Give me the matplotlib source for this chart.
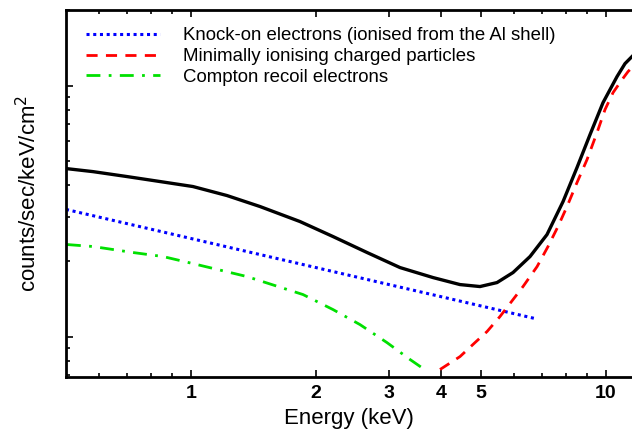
import numpy as np
import matplotlib
matplotlib.use('Agg')
import matplotlib.pyplot as plt
from matplotlib.ticker import LogLocator, NullFormatter, FixedLocator, FixedFormatter

plt.rcParams['font.family'] = ['Liberation Sans', 'DejaVu Sans']

# values (energy in keV, arbitrary counts units)
e_total = [0.5, 0.581, 0.701, 0.842, 1.011, 1.221, 1.467, 1.831, 2.199, 2.656,
           3.189, 3.830, 4.448, 4.970, 5.463, 5.970, 6.561, 7.208, 7.879, 8.514,
           9.152, 9.835, 10.63, 11.11, 11.55]
c_total = [0.467, 0.454, 0.434, 0.4146, 0.396, 0.3646, 0.3296, 0.2872, 0.2503, 0.2162,
           0.1883, 0.1718, 0.1611, 0.1582, 0.1641, 0.1799, 0.2084, 0.2549, 0.345, 0.4715,
           0.638, 0.855, 1.086, 1.223, 1.305]

e_knock = [0.5, 6.74]
c_knock = [0.321, 0.118]

e_min = [3.981, 4.448, 4.834, 5.168, 5.554, 5.970, 6.310, 6.822, 7.248, 7.660,
         8.054, 8.514, 9.001, 9.513, 9.945, 10.40, 10.93, 11.30, 11.55]
c_min = [0.0739, 0.0832, 0.0946, 0.1047, 0.1202, 0.1404, 0.1582, 0.190, 0.2284, 0.2743,
         0.3296, 0.4108, 0.5073, 0.6497, 0.8024, 0.9378, 1.056, 1.137, 1.18]

e_compton = [0.5026, 0.581, 0.7247, 0.856, 1.011, 1.364, 1.862, 2.199, 2.554, 2.967,
             3.372, 3.624]
c_compton = [0.2326, 0.2284, 0.2162, 0.2084, 0.1953, 0.1734, 0.147, 0.1281, 0.1116, 0.0946,
             0.081, 0.0746]

xticks = [1, 2, 3, 4, 5, 10]

fig = plt.figure(figsize=(6.32, 4.34), dpi=100)
ax = fig.add_axes([66/632, 1-377/434, 1-66/632, (377-10)/434])

ax.plot(e_knock, c_knock, color='blue', ls=(0, (1, 1.2)), lw=2.2,
        label='Knock-on electrons (ionised from the Al shell)')
ax.plot(e_min, c_min, color='red', ls=(0, (4, 3)), lw=2,
        label='Minimally ionising charged particles')
ax.plot(e_compton, c_compton, color='#00e000', ls=(0, (5, 3, 1, 3)), lw=2,
        label='Compton recoil electrons')
ax.plot(e_total, c_total, color='black', lw=2.4, solid_joinstyle='round')

ax.set_xscale('log')
ax.set_yscale('log')
ax.set_xlim(0.5, 11.55)
ax.set_ylim(0.069, 2.0)

ax.xaxis.set_major_locator(FixedLocator(xticks))
ax.xaxis.set_major_formatter(FixedFormatter([str(t) for t in xticks]))
ax.xaxis.set_minor_locator(FixedLocator([0.6, 0.7, 0.8, 0.9, 6, 7, 8, 9]))
ax.xaxis.set_minor_formatter(NullFormatter())
ax.yaxis.set_major_locator(LogLocator(base=10, numticks=10))
ax.yaxis.set_minor_locator(LogLocator(base=10, subs=np.arange(2, 10), numticks=20))
ax.yaxis.set_major_formatter(NullFormatter())
ax.yaxis.set_minor_formatter(NullFormatter())

ax.tick_params(which='both', direction='in', top=True, right=False, width=1.2)
ax.tick_params(which='major', length=5, labelsize=14, pad=6)
ax.tick_params(which='minor', length=3)
for lab in ax.get_xticklabels():
    lab.set_fontweight('bold')

ax.spines['right'].set_visible(False)
for s in ['left', 'bottom', 'top']:
    ax.spines[s].set_linewidth(2)

ax.set_xlabel('Energy (keV)', fontsize=16)
ax.set_ylabel(r'counts/sec/keV/cm$^2$', fontsize=16)
ax.xaxis.set_label_coords(0.5, -0.085)
ax.yaxis.set_label_coords(-0.043, 0.5)

ax.legend(loc='upper left', frameon=False, fontsize=13.4, handlelength=4.0,
          handletextpad=1.2, borderaxespad=0.0, borderpad=0.3, labelspacing=0.2,
          bbox_to_anchor=(0.025, 0.968))

fig.savefig('out.png', dpi=100)
